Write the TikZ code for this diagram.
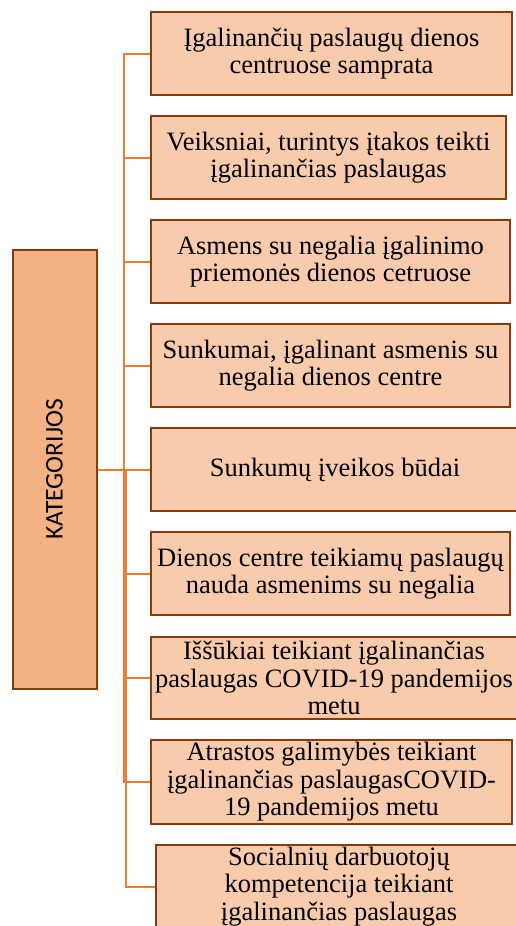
\documentclass[tikz,border=0pt]{standalone}
\usepackage{fontspec}
\setmainfont{Liberation Serif}
\newfontfamily\katfont{Carlito}
\usetikzlibrary{calc}
\definecolor{katfill}{RGB}{244,177,131}
\definecolor{boxfill}{RGB}{248,203,173}
\definecolor{boxline}{RGB}{132,60,12}
\definecolor{linkline}{RGB}{237,125,49}

\begin{document}
\begin{tikzpicture}[x=1pt,y=-1pt,
    katbox/.style={draw=boxline,fill=katfill,line width=2pt,
      minimum width=84pt,minimum height=439pt,inner sep=0pt,
      font=\katfont\fontsize{25.5}{30}\selectfont},
    subbox/.style={draw=boxline,fill=boxfill,line width=2pt,
      anchor=west,inner sep=0pt,align=center,minimum height=83pt,
      font=\fontsize{26.5}{27.5}\selectfont},
    link/.style={draw=linkline,line width=2pt}]
  \useasboundingbox
    (0,0)
    rectangle
    (516,926);
  \node[katbox] (kat) at (54.5,469.5) {\rotatebox{90}{KATEGORIJOS}};
  \node[subbox,minimum width=361pt] (k1) at (150,53.5)
    {Įgalinančių paslaugų dienos\\centruose samprata};
  \node[subbox,minimum width=355pt] (k2) at (150,157.5)
    {Veiksniai, turintys įtakos teikti\\įgalinančias paslaugas};
  \node[subbox,minimum width=359pt] (k3) at (150,261.5)
    {Asmens su negalia įgalinimo\\priemonės dienos cetruose};
  \node[subbox,minimum width=359pt] (k4) at (150,365.5)
    {Sunkumai, įgalinant asmenis su\\negalia dienos centre};
  \node[subbox,minimum width=368pt] (k5) at (150,469.5)
    {Sunkumų įveikos būdai};
  \node[subbox,minimum width=359pt] (k6) at (150,573.5)
    {Dienos centre teikiamų paslaugų\\nauda asmenims su negalia};
  \node[subbox,minimum width=366pt,minimum height=82pt] (k7) at (150,678)
    {Iššūkiai teikiant įgalinančias\\paslaugas COVID-19 pandemijos\\metu};
  \node[subbox,minimum width=361pt,minimum height=84pt] (k8) at (150,782)
    {Atrastos galimybės teikiant\\įgalinančias paslaugasCOVID-\\19 pandemijos metu};
  \node[subbox,minimum width=366pt] (k9) at (155,886.5)
    {Socialnių darbuotojų\\kompetencija teikiant\\įgalinančias paslaugas};
  \draw[link]
    (kat.east)
    -| ($(kat.east)!.5!(k1.west)$)
    |- (k1.west);
  \draw[link]
    (kat.east)
    -| ($(kat.east)!.5!(k2.west)$)
    |- (k2.west);
  \draw[link]
    (kat.east)
    -| ($(kat.east)!.5!(k3.west)$)
    |- (k3.west);
  \draw[link]
    (kat.east)
    -| ($(kat.east)!.5!(k4.west)$)
    |- (k4.west);
  \draw[link]
    (kat.east)
    --
    (k5.west);
  \draw[link]
    (kat.east)
    -| ($(kat.east)!.5!(k6.west)$)
    |- (k6.west);
  \draw[link]
    (kat.east)
    -| ($(kat.east)!.5!(k7.west)$)
    |- (k7.west);
  \draw[link]
    (kat.east)
    -| ($(kat.east)!.5!(k8.west)$)
    |- (k8.west);
  \draw[link]
    (kat.east)
    -| ($(kat.east)!.5!(k9.west)$)
    |- (k9.west);
\end{tikzpicture}
\end{document}
